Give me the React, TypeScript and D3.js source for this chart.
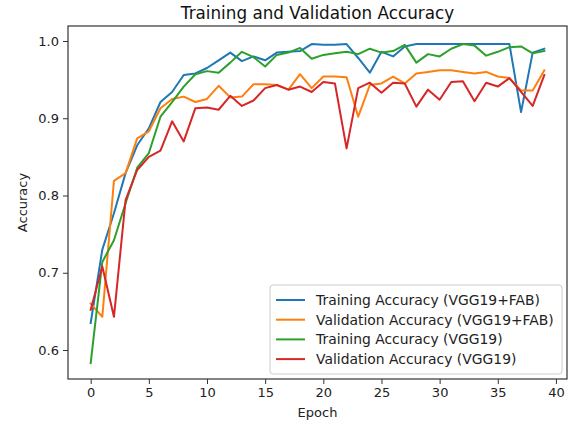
import React, { useEffect, useRef } from 'react';
import * as d3 from 'd3';

// values, epochs 0..39
const epochs = d3.range(0, 40);

const trainFab = [0.635, 0.73, 0.777, 0.829, 0.865, 0.887, 0.921, 0.934, 0.956, 0.958,
  0.965, 0.975, 0.985, 0.974, 0.980, 0.975, 0.985, 0.986, 0.987, 0.996,
  0.995, 0.995, 0.996, 0.978, 0.959, 0.986, 0.980, 0.993, 0.996, 0.996,
  0.996, 0.996, 0.996, 0.996, 0.996, 0.996, 0.996, 0.908, 0.985, 0.990];

const valFab = [0.660, 0.643, 0.819, 0.829, 0.874, 0.883, 0.913, 0.925, 0.928, 0.921,
  0.925, 0.942, 0.927, 0.928, 0.944, 0.944, 0.943, 0.937, 0.957, 0.939,
  0.954, 0.954, 0.953, 0.902, 0.943, 0.945, 0.954, 0.945, 0.958, 0.960,
  0.962, 0.962, 0.960, 0.958, 0.960, 0.954, 0.952, 0.936, 0.936, 0.962];

const trainVgg = [0.583, 0.714, 0.742, 0.790, 0.836, 0.855, 0.902, 0.921, 0.941, 0.957,
  0.961, 0.959, 0.972, 0.986, 0.979, 0.967, 0.982, 0.985, 0.991, 0.977,
  0.982, 0.984, 0.986, 0.983, 0.990, 0.985, 0.987, 0.995, 0.972, 0.983,
  0.980, 0.990, 0.996, 0.994, 0.981, 0.986, 0.992, 0.993, 0.984, 0.987];

const valVgg = [0.652, 0.708, 0.643, 0.794, 0.833, 0.850, 0.858, 0.896, 0.870, 0.913,
  0.914, 0.911, 0.929, 0.916, 0.923, 0.939, 0.943, 0.937, 0.941, 0.934,
  0.947, 0.945, 0.861, 0.939, 0.946, 0.933, 0.946, 0.945, 0.915, 0.937,
  0.924, 0.947, 0.948, 0.922, 0.946, 0.941, 0.952, 0.934, 0.916, 0.956];

const seriesNames = [
  'Training Accuracy (VGG19+FAB)',
  'Validation Accuracy (VGG19+FAB)',
  'Training Accuracy (VGG19)',
  'Validation Accuracy (VGG19)',
];
const seriesValues = [trainFab, valFab, trainVgg, valVgg];
const colors = ['#1f77b4', '#ff7f0e', '#2ca02c', '#d62728'];

const xTicks = [0, 5, 10, 15, 20, 25, 30, 35, 40];
const yTicks = [0.6, 0.7, 0.8, 0.9, 1.0];

const W = 571;
const H = 423;
const FONT = 'DejaVu Sans, sans-serif';

export default function App() {
  const ref = useRef<SVGSVGElement | null>(null);

  useEffect(() => {
    const svg = d3.select(ref.current);
    svg.selectAll('*').remove();

    const left = 68, right = 567, top = 26, bottom = 379;

    const x = d3.scaleLinear().domain([-1.95, 40.95]).range([left, right]);
    const y = d3.scaleLinear().domain([0.5625, 1.0194]).range([bottom, top]);

    svg.append('rect').attr('width', W).attr('height', H).attr('fill', '#fff');

    const line = d3.line<number>()
      .x((d, i) => x(epochs[i]))
      .y(d => y(d));

    const plot = svg.append('g');
    seriesValues.forEach((vals, k) => {
      plot.append('path')
        .datum(vals)
        .attr('d', line)
        .attr('fill', 'none')
        .attr('stroke', colors[k])
        .attr('stroke-width', 2)
        .attr('stroke-linejoin', 'round')
        .attr('stroke-linecap', 'square');
    });

    // axes
    const xAxis = d3.axisBottom(x).tickValues(xTicks).tickSize(5).tickPadding(4)
      .tickFormat(d3.format('d'));
    const yAxis = d3.axisLeft(y).tickValues(yTicks).tickSize(5).tickPadding(4)
      .tickFormat(d3.format('.1f'));

    const gx = svg.append('g').attr('transform', `translate(0,${bottom})`).call(xAxis);
    const gy = svg.append('g').attr('transform', `translate(${left},0)`).call(yAxis);
    [gx, gy].forEach(g => {
      g.select('.domain').remove();
      g.selectAll('line').attr('stroke', '#333').attr('stroke-width', 1);
      g.selectAll('text').attr('font-family', FONT).attr('font-size', 13).attr('fill', '#222');
    });

    svg.append('rect')
      .attr('x', left).attr('y', top)
      .attr('width', right - left).attr('height', bottom - top)
      .attr('fill', 'none').attr('stroke', '#333').attr('stroke-width', 1.2);

    // labels
    svg.append('text')
      .attr('x', (left + right) / 2).attr('y', 19)
      .attr('text-anchor', 'middle')
      .attr('font-family', FONT).attr('font-size', 16.8).attr('fill', '#111')
      .text('Training and Validation Accuracy');

    svg.append('text')
      .attr('x', (left + right) / 2).attr('y', 417)
      .attr('text-anchor', 'middle')
      .attr('font-family', FONT).attr('font-size', 13).attr('fill', '#222')
      .text('Epoch');

    svg.append('text')
      .attr('transform', `translate(27,${(top + bottom) / 2}) rotate(-90)`)
      .attr('text-anchor', 'middle')
      .attr('font-family', FONT).attr('font-size', 13).attr('fill', '#222')
      .text('Accuracy');

    // legend
    const lg = svg.append('g').attr('transform', 'translate(270,285)');
    lg.append('rect')
      .attr('width', 292).attr('height', 89).attr('rx', 3)
      .attr('fill', '#fff').attr('fill-opacity', 0.8)
      .attr('stroke', '#ccc').attr('stroke-width', 1);
    seriesNames.forEach((name, k) => {
      const cy = 15 + k * 19.7;
      lg.append('line')
        .attr('x1', 6).attr('x2', 35).attr('y1', cy).attr('y2', cy)
        .attr('stroke', colors[k]).attr('stroke-width', 2);
      lg.append('text')
        .attr('x', 46).attr('y', cy).attr('dy', '0.35em')
        .attr('font-family', FONT).attr('font-size', 13.9).attr('fill', '#222')
        .text(name);
    });
  }, []);

  return (
    <svg ref={ref} width={W} height={H}
      style={{ position: 'absolute', left: 0, top: 0 }} />
  );
}
